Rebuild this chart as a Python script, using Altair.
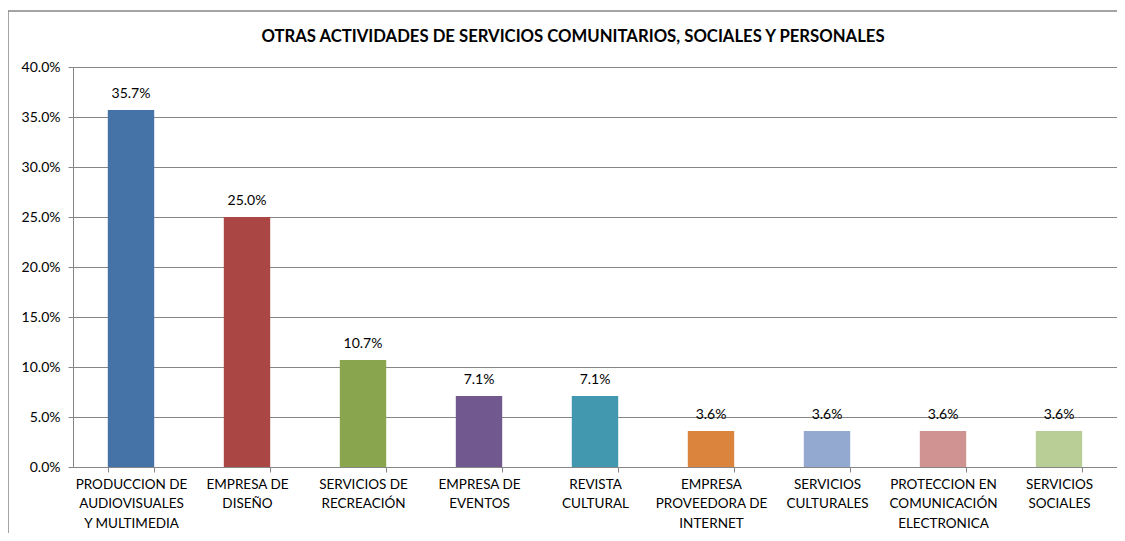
import altair as alt
import pandas as pd

categories = [
    "PRODUCCION DE|AUDIOVISUALES|Y MULTIMEDIA",
    "EMPRESA DE|DISEÑO",
    "SERVICIOS DE|RECREACIÓN",
    "EMPRESA DE|EVENTOS",
    "REVISTA|CULTURAL",
    "EMPRESA|PROVEEDORA DE|INTERNET",
    "SERVICIOS|CULTURALES",
    "PROTECCION EN|COMUNICACIÓN|ELECTRONICA",
    "SERVICIOS|SOCIALES",
]
values = [0.357, 0.250, 0.107, 0.071, 0.071, 0.036, 0.036, 0.036, 0.036]
colors = ["#4572A7", "#AA4643", "#89A54E", "#71588F", "#4198AF",
          "#DB843D", "#93A9CF", "#D19392", "#B9CD96"]
y_ticks = [0, 0.05, 0.10, 0.15, 0.20, 0.25, 0.30, 0.35, 0.40]
title_text = "OTRAS ACTIVIDADES DE SERVICIOS COMUNITARIOS, SOCIALES Y PERSONALES"

df = pd.DataFrame({"cat": categories, "val": values})

FONT = "Lato"
GRAY = "#868686"

x_enc = alt.X("cat:N", sort=None,
              scale=alt.Scale(paddingInner=0.6, paddingOuter=0.3),
              axis=alt.Axis(title=None, labelAngle=0,
                            labelExpr="isValid(datum.value) ? split(datum.value, '|') : ''",
                            labelLineHeight=19.5, labelPadding=5,
                            labelBaseline="top",
                            tickBand="extent", tickSize=5,
                            domainColor=GRAY, tickColor=GRAY,
                            labelFontSize=13.5, labelFont=FONT,
                            labelColor="#000000", grid=False))
y_enc = alt.Y("val:Q",
              scale=alt.Scale(domain=[0, 0.4], nice=False),
              axis=alt.Axis(title=None, format=".1%", values=y_ticks,
                            grid=True, gridColor=GRAY, tickColor=GRAY,
                            domainColor=GRAY, tickSize=5, labelPadding=8,
                            labelFontSize=14, labelFont=FONT,
                            labelColor="#000000"))

bars = alt.Chart(df).mark_bar().encode(
    x=x_enc, y=y_enc,
    color=alt.Color("cat:N", sort=None,
                    scale=alt.Scale(domain=categories, range=colors),
                    legend=None),
)

labels = alt.Chart(df).mark_text(baseline="bottom", dy=-9, fontSize=14,
                                 font=FONT, color="#000000").encode(
    x=alt.X("cat:N", sort=None),
    y="val:Q",
    text=alt.Text("val:Q", format=".1%"),
)

frame_df = pd.DataFrame({"t": [title_text]})
frame_left = alt.Chart(frame_df).mark_rule(color=GRAY, strokeWidth=1.5).encode(
    x=alt.value(-65), y=alt.value(-56), y2=alt.value(500))
frame_top = alt.Chart(frame_df).mark_rule(color=GRAY, strokeWidth=1.5).encode(
    x=alt.value(-65), x2=alt.value(1070), y=alt.value(-56))
title = alt.Chart(frame_df).mark_text(font=FONT, fontSize=16.7,
                                      fontWeight="bold", align="center",
                                      baseline="alphabetic",
                                      color="#000000").encode(
    x=alt.value(500), y=alt.value(-25), text="t:N")

chart = alt.layer(bars, labels, frame_left, frame_top, title).properties(
    width=1044, height=400,
    autosize=alt.AutoSizeParams(type="none"),
    padding={"left": 65, "top": 59, "right": 0, "bottom": 66},
).configure_view(stroke=None)

chart.save("out.html", embed_options={"renderer": "svg", "actions": False})
